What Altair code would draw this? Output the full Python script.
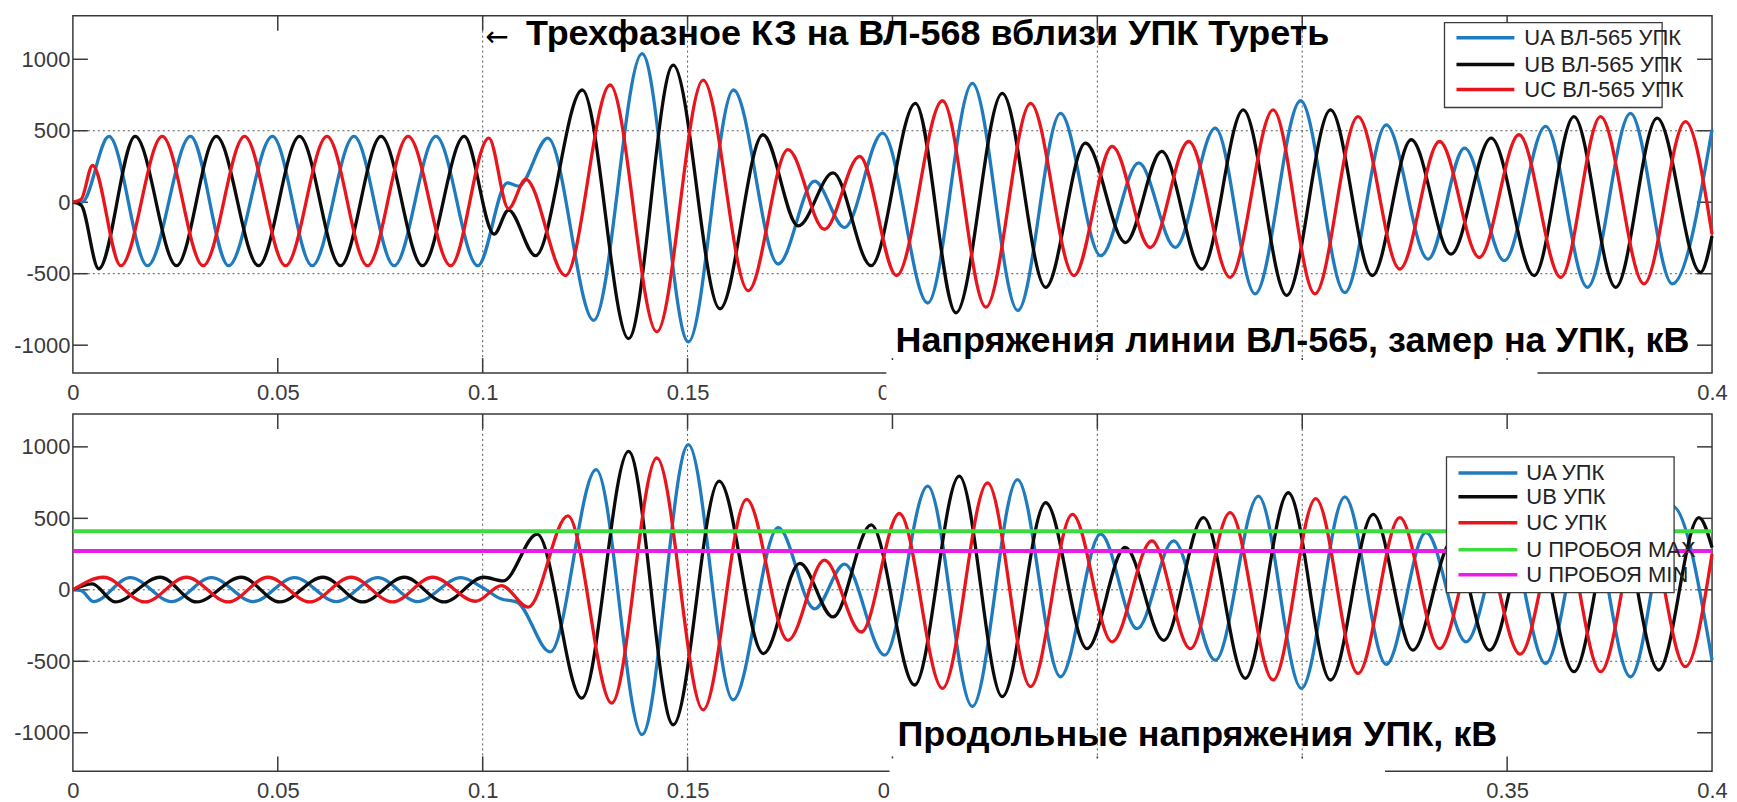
import altair as alt
import pandas as pd

# ---------------- data (time in s, voltage in kV) ----------------
X_TICKS = [0, 0.05, 0.1, 0.15, 0.2, 0.25, 0.3, 0.35, 0.4]
Y_TICKS = [-1000, -500, 0, 500, 1000]

# top panel: line voltages VL-565 at UPK (extrema)
UA1_T = [0, 0.0022, 0.0088, 0.0182, 0.0287, 0.0380, 0.0487, 0.0584, 0.0686, 0.0784,
         0.0886, 0.0988, 0.1060, 0.1088, 0.1159, 0.1271, 0.1389, 0.1502, 0.1612, 0.1721,
         0.1810, 0.1883, 0.1976, 0.2086, 0.2195, 0.2306, 0.2410, 0.2508, 0.2601, 0.2690,
         0.2788, 0.2885, 0.2996, 0.3104, 0.3205, 0.3307, 0.3396, 0.3493, 0.3594, 0.3696,
         0.3801, 0.3903, 0.4000]
UA1_V = [0, 0, 460, -444, 460, -444, 460, -444, 460, -444,
         460, -444, 136, 113, 449, -826, 1040, -977, 785, -432,
         147, -177, 483, -705, 831, -757, 622, -374, 275, -316,
         518, -641, 710, -632, 541, -398, 379, -409, 530, -595,
         622, -571, 507]

UB1_T = [0, 0.0020, 0.0063, 0.0152, 0.0253, 0.0350, 0.0453, 0.0553, 0.0653, 0.0752,
         0.0853, 0.0955, 0.1028, 0.1063, 0.1129, 0.1243, 0.1356, 0.1465, 0.1579, 0.1684,
         0.1770, 0.1855, 0.1948, 0.2056, 0.2155, 0.2268, 0.2374, 0.2471, 0.2569, 0.2657,
         0.2755, 0.2856, 0.2962, 0.3069, 0.3171, 0.3266, 0.3363, 0.3461, 0.3566, 0.3663,
         0.3765, 0.3866, 0.3972, 0.4000]
UB1_V = [0, -20, -466, 460, -444, 460, -444, 460, -444, 460,
         -444, 460, -223, -55, -374, 785, -954, 959, -745, 472,
         -166, 205, -444, 692, -774, 762, -595, 414, -282, 356,
         -467, 646, -652, 646, -513, 437, -363, 449, -513, 599,
         -595, 588, -490, -235]

UC1_T = [0, 0.0020, 0.0048, 0.0117, 0.0218, 0.0318, 0.0419, 0.0519, 0.0620, 0.0719,
         0.0818, 0.0922, 0.1015, 0.1063, 0.1105, 0.1202, 0.1311, 0.1425, 0.1538, 0.1648,
         0.1745, 0.1834, 0.1920, 0.2010, 0.2122, 0.2228, 0.2337, 0.2443, 0.2536, 0.2629,
         0.2723, 0.2824, 0.2929, 0.3031, 0.3136, 0.3238, 0.3335, 0.3432, 0.3529, 0.3631,
         0.3728, 0.3834, 0.3935, 0.4000]
UC1_V = [0, 20, 257, -444, 460, -444, 460, -444, 460, -444,
         460, -444, 449, -45, 160, -513, 820, -907, 854, -618,
         368, -189, 321, -513, 710, -734, 692, -513, 391, -316,
         425, -525, 646, -641, 599, -467, 425, -386, 472, -525,
         599, -571, 564, -224]

# bottom panel: longitudinal voltages across UPK
UA2_T = [0, 0.0020, 0.0050, 0.0140, 0.0241, 0.0338, 0.0440, 0.0541, 0.0643, 0.0744,
         0.0841, 0.0947, 0.1000, 0.1044, 0.1084, 0.1165, 0.1277, 0.1389, 0.1502, 0.1611,
         0.1721, 0.1810, 0.1883, 0.1981, 0.2086, 0.2195, 0.2305, 0.2410, 0.2508, 0.2597,
         0.2686, 0.2788, 0.2893, 0.2998, 0.3104, 0.3205, 0.3302, 0.3400, 0.3497, 0.3594,
         0.3696, 0.3801, 0.3903, 0.4000]
UA2_V = [0, -5, -82, 85, -82, 85, -82, 85, -82, 85,
         -82, 85, 15, -63, -86, -434, 841, -1013, 1015, -770,
         435, -133, 180, -457, 725, -816, 771, -608, 389, -272,
         343, -492, 656, -689, 650, -521, 401, -364, 420, -515,
         560, -608, 586, -492]

UB2_T = [0, 0.0047, 0.0103, 0.0213, 0.0302, 0.0411, 0.0505, 0.0610, 0.0707, 0.0809,
         0.0906, 0.1003, 0.1050, 0.1133, 0.1242, 0.1356, 0.1465, 0.1577, 0.1685, 0.1774,
         0.1855, 0.1948, 0.2054, 0.2163, 0.2268, 0.2374, 0.2475, 0.2568, 0.2662, 0.2759,
         0.2861, 0.2966, 0.3069, 0.3173, 0.3270, 0.3366, 0.3457, 0.3560, 0.3663, 0.3766,
         0.3870, 0.3968, 0.4000]
UB2_V = [0, 42, -85, 88, -85, 88, -85, 88, -85, 88,
         -85, 88, 62, 389, -758, 968, -944, 760, -446, 185,
         -190, 454, -666, 795, -747, 609, -411, 296, -353, 505,
         -619, 679, -631, 528, -422, 340, -422, 480, -573, 560,
         -561, 505, 296]

UC2_T = [0, 0.0075, 0.0176, 0.0277, 0.0379, 0.0476, 0.0578, 0.0679, 0.0780, 0.0878,
         0.0983, 0.1046, 0.1111, 0.1208, 0.1315, 0.1425, 0.1538, 0.1644, 0.1745, 0.1834,
         0.1924, 0.2017, 0.2122, 0.2232, 0.2337, 0.2439, 0.2536, 0.2633, 0.2727, 0.2824,
         0.2929, 0.3033, 0.3136, 0.3238, 0.3335, 0.3432, 0.3532, 0.3630, 0.3728, 0.3832,
         0.3935, 0.4000]
UC2_V = [0, 88, -85, 88, -85, 88, -85, 88, -85, 88,
         -80, 30, -121, 517, -793, 922, -840, 632, -353, 208,
         -295, 534, -689, 748, -677, 528, -364, 343, -411, 540,
         -631, 638, -585, 505, -411, 400, -450, 480, -573, 560,
         -538, 250]

# breakdown voltage levels (kV)
U_BREAK_MAX = [410]
U_BREAK_MIN = [272]

# grid lines visible in the figure
TOP_HGRID = [500, -500]
BOT_HGRID = [0, -500]
VGRID = [0.1, 0.15, 0.25, 0.3]

# white patches hiding part of the time axis (time extents)
TOP_MASK = [0.1985, 0.3574]
BOT_MASK = [0.1993, 0.3202]

TOP_LEGEND = ["UA ВЛ-565 УПК", "UB ВЛ-565 УПК", "UC ВЛ-565 УПК"]
BOT_LEGEND = ["UA УПК", "UB УПК", "UC УПК", "U ПРОБОЯ MAX", "U ПРОБОЯ MIN"]

TITLE_TOP = "Трехфазное КЗ на ВЛ-568 вблизи УПК Туреть"
ARROW = "←"
TITLE_PANEL1 = "Напряжения линии ВЛ-565, замер на УПК, кВ"
TITLE_PANEL2 = "Продольные напряжения УПК, кВ"

# ---------------- styling ----------------
BLUE, BLACK, RED = "#1f7bbd", "#0b0b0b", "#e8161c"
GREEN, MAGENTA = "#3cdc3c", "#e81ee8"
FRAME = "#3a3a3a"
GRID = "#555555"
W, H = 1642, 358
TL = 15  # inward tick length

XS = alt.Scale(domain=[0, 0.4], nice=False, zero=False)
XAX = alt.Axis(values=X_TICKS, format="~g", ticks=False, domain=False, grid=False,
               title=None, labelFlush=False, labelOverlap=False, labelPadding=9)
YAX = alt.Axis(values=Y_TICKS, labelExpr="toString(datum.value)", ticks=False,
               domain=False, grid=False, title=None, labelOverlap=False, labelPadding=3)


def xenc(field="t"):
    return alt.X(f"{field}:Q", scale=XS, axis=XAX)


def yenc(ys):
    return alt.Y("v:Q", scale=ys, axis=YAX)


def panel(series, ydom, hgrid, hlines, mask, legend, lbox, ltext_x, lsample, lrows, titles):
    ys = alt.Scale(domain=ydom, nice=False, zero=False)
    layers = []
    # dotted grid
    layers.append(alt.Chart(pd.DataFrame({"v": hgrid})).mark_rule(
        color=GRID, strokeDash=[2, 3], strokeWidth=1).encode(
        y=yenc(ys), x=alt.value(0), x2=alt.value(W)))
    layers.append(alt.Chart(pd.DataFrame({"t": VGRID})).mark_rule(
        color=GRID, strokeDash=[2, 3], strokeWidth=1).encode(
        x=xenc(), y=alt.value(0), y2=alt.value(H)))
    # inward ticks on four sides
    xt = pd.DataFrame({"t": X_TICKS[1:-1]})
    yt = pd.DataFrame({"v": Y_TICKS})
    tk = dict(color=FRAME, strokeWidth=1.5)
    layers.append(alt.Chart(xt).mark_rule(**tk).encode(x=xenc(), y=alt.value(H - TL), y2=alt.value(H)))
    layers.append(alt.Chart(xt).mark_rule(**tk).encode(x=xenc(), y=alt.value(0), y2=alt.value(TL)))
    layers.append(alt.Chart(yt).mark_rule(**tk).encode(y=yenc(ys), x=alt.value(0), x2=alt.value(TL)))
    layers.append(alt.Chart(yt).mark_rule(**tk).encode(y=yenc(ys), x=alt.value(W - TL), x2=alt.value(W)))
    # waveforms
    for ts, vs, col in series:
        layers.append(alt.Chart(pd.DataFrame({"t": ts, "v": vs})).mark_line(
            color=col, strokeWidth=3.3, interpolate="monotone").encode(x=xenc(), y=yenc(ys)))
    for vals, col in hlines:
        layers.append(alt.Chart(pd.DataFrame({"v": vals})).mark_rule(
            color=col, strokeWidth=4).encode(y=yenc(ys), x=alt.value(0), x2=alt.value(W)))
    # white patch over part of the time axis
    layers.append(alt.Chart(pd.DataFrame({"t": [mask[0]], "t2": [mask[1]]})).mark_rect(
        color="white").encode(x=xenc(), x2="t2:Q", y=alt.value(H - 13), y2=alt.value(H + 32)))
    # titles
    for txt, px, py, font, size, weight in titles:
        layers.append(alt.Chart(pd.DataFrame({"label": [txt]})).mark_text(
            align="left", baseline="alphabetic", font=font, fontSize=size,
            fontWeight=weight, color="#000000").encode(
            text="label:N", x=alt.value(px), y=alt.value(py)))
    # legend
    bx0, bx1, by0, by1 = lbox
    layers.append(alt.Chart(pd.DataFrame({"a": [0]})).mark_rect(
        fill="white", stroke=FRAME, strokeWidth=1.3).encode(
        x=alt.value(bx0), x2=alt.value(bx1), y=alt.value(by0), y2=alt.value(by1)))
    for (label, col), ry in zip(legend, lrows):
        layers.append(alt.Chart(pd.DataFrame({"a": [0]})).mark_rule(
            color=col, strokeWidth=3.5).encode(
            x=alt.value(lsample[0]), x2=alt.value(lsample[1]), y=alt.value(ry)))
        layers.append(alt.Chart(pd.DataFrame({"label": [label]})).mark_text(
            align="left", baseline="middle", font="Liberation Sans", fontSize=22,
            color="#222222").encode(text="label:N", x=alt.value(ltext_x), y=alt.value(ry)))
    return alt.layer(*layers).properties(width=W, height=H)


top = panel(
    series=[(UA1_T, UA1_V, BLUE), (UB1_T, UB1_V, BLACK), (UC1_T, UC1_V, RED)],
    ydom=[-1195, 1305], hgrid=TOP_HGRID, hlines=[], mask=TOP_MASK,
    legend=list(zip(TOP_LEGEND, [BLUE, BLACK, RED])),
    lbox=(1374, 1592, 7, 92), ltext_x=1454, lsample=(1386, 1444), lrows=[22, 49, 74],
    titles=[(ARROW, 413, 30, "DejaVu Sans", 28, "normal"),
            (TITLE_TOP, 454, 29, "Liberation Sans", 36, "bold"),
            (TITLE_PANEL1, 824, 337, "Liberation Sans", 36, "bold")],
)

bottom = panel(
    series=[(UA2_T, UA2_V, BLUE), (UB2_T, UB2_V, BLACK), (UC2_T, UC2_V, RED)],
    ydom=[-1270, 1230], hgrid=BOT_HGRID,
    hlines=[(U_BREAK_MAX, GREEN), (U_BREAK_MIN, MAGENTA)], mask=BOT_MASK,
    legend=list(zip(BOT_LEGEND, [BLUE, BLACK, RED, GREEN, MAGENTA])),
    lbox=(1376, 1604, 43, 179), ltext_x=1456, lsample=(1388, 1447),
    lrows=[59, 83, 109, 136, 161],
    titles=[(TITLE_PANEL2, 826, 333, "Liberation Sans", 36, "bold")],
)

chart = alt.vconcat(top, bottom, spacing=6).properties(
    padding={"left": 4, "top": 5, "right": 0, "bottom": 0}
).configure_view(stroke=FRAME, strokeWidth=1.5).configure_axis(
    labelFont="Liberation Sans", labelFontSize=22, labelColor="#3a3a3a"
)

chart.save("out.html", embed_options={"renderer": "svg", "actions": False})
